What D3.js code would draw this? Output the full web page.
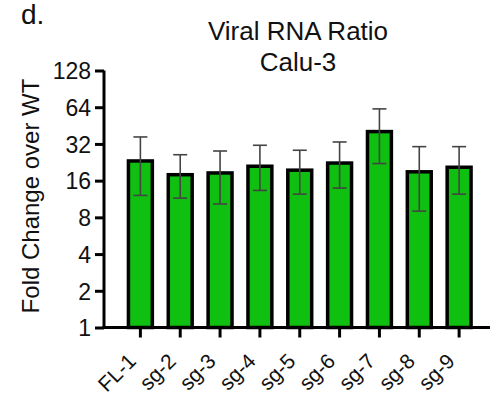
<!DOCTYPE html>
<html>
<head>
<meta charset="utf-8">
<script src="https://cdn.jsdelivr.net/npm/d3@7"></script>
<style>
  body { margin: 0; background: #fff; }
  text { font-family: Arial, "Liberation Sans", sans-serif; fill: #111; }
</style>
</head>
<body>
<script>
const categories = ['FL-1', 'sg-2', 'sg-3', 'sg-4', 'sg-5', 'sg-6', 'sg-7', 'sg-8', 'sg-9']
const means = [23.2, 17.9, 18.5, 21.0, 19.5, 22.3, 40.4, 18.9, 20.6]
const upper = [36.5, 26.1, 28.0, 31.2, 28.4, 33.2, 62.0, 30.4, 30.4]
const lower = [12.1, 11.5, 10.3, 13.3, 12.4, 13.9, 22.1, 9.0, 12.4]
const yTicks = [1, 2, 4, 8, 16, 32, 64, 128]

const data = categories.map((c, i) => ({ c, v: means[i], hi: upper[i], lo: lower[i] }))

const svg = d3.select('body').append('svg')
  .attr('width', 495)
  .attr('height', 395)

const x = d3.scaleBand().domain(categories).range([112.5, 487]).padding(0.4)
const y = d3.scaleLog().base(2).domain([1, 128]).range([327.5, 70.5])

svg.append('text')
  .attr('x', 21).attr('y', 24)
  .style('font-size', '28px')
  .text('d.')

svg.append('text')
  .attr('x', 298).attr('y', 40)
  .attr('text-anchor', 'middle')
  .style('font-size', '26px')
  .text('Viral RNA Ratio')

svg.append('text')
  .attr('x', 298).attr('y', 71)
  .attr('text-anchor', 'middle')
  .style('font-size', '26px')
  .text('Calu-3')

svg.append('text')
  .attr('transform', 'translate(39,196) rotate(-90)')
  .attr('text-anchor', 'middle')
  .style('font-size', '24px')
  .text('Fold Change over WT')

// bars
svg.selectAll('rect.bar').data(data).enter()
  .append('rect')
    .attr('class', 'bar')
    .attr('x', d => x(d.c))
    .attr('width', x.bandwidth())
    .attr('y', d => y(d.v))
    .attr('height', d => y(1) - y(d.v))
    .attr('fill', '#10c010')
    .attr('stroke', '#000')
    .attr('stroke-width', 3.5)

// error bars
const err = svg.append('g').attr('stroke', '#444').attr('stroke-width', 1.6)
data.forEach(d => {
  const cx = x(d.c) + x.bandwidth() / 2
  err.append('line').attr('x1', cx).attr('x2', cx).attr('y1', y(d.hi)).attr('y2', y(d.lo))
  err.append('line').attr('x1', cx - 7).attr('x2', cx + 7).attr('y1', y(d.hi)).attr('y2', y(d.hi))
  err.append('line').attr('x1', cx - 7).attr('x2', cx + 7).attr('y1', y(d.lo)).attr('y2', y(d.lo))
})

// y axis
const yAxis = svg.append('g')
  .attr('transform', 'translate(104,0)')
  .call(d3.axisLeft(y).tickValues(yTicks).tickFormat(d3.format('d')).tickSize(9).tickSizeOuter(0))
yAxis.select('.domain').attr('stroke-width', 3).attr('d', `M0,${y(128)}V${y(1) + 1.5}`)
yAxis.selectAll('.tick line').attr('stroke-width', 3)
yAxis.selectAll('.tick text').attr('x', -13).attr('dy', '0.36em').style('font-size', '23px')

// x axis
const xAxis = svg.append('g')
  .attr('transform', `translate(0,${y(1)})`)
  .call(d3.axisBottom(x).tickSize(10).tickSizeOuter(0))
xAxis.select('.domain').attr('stroke-width', 3).attr('d', 'M102.5,0H490')
xAxis.selectAll('.tick line').attr('stroke-width', 3)
xAxis.selectAll('.tick text')
  .style('font-size', '21px')
  .attr('text-anchor', 'end')
  .attr('y', 0).attr('dy', 0)
  .attr('transform', 'translate(-3,35) rotate(-45)')
</script>
</body>
</html>
